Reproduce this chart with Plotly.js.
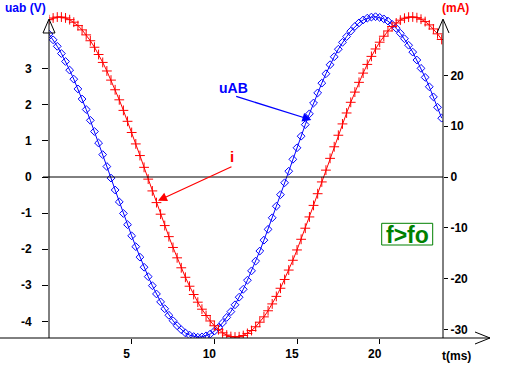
<!DOCTYPE html>
<html>
<head>
<meta charset="utf-8">
<script src="https://cdn.plot.ly/plotly-3.0.1.min.js"></script>
<style>html,body{margin:0;padding:0;background:#fff;}#chart{width:513px;height:373px;}</style>
</head>
<body>
<div id="chart"></div>
<script>
// time (ms)
const tMs = [0,0.25,0.5,0.75,1,1.25,1.5,1.75,2,2.25,2.5,2.75,3,3.25,3.5,3.75,4,4.25,4.5,4.75,
5,5.25,5.5,5.75,6,6.25,6.5,6.75,7,7.25,7.5,7.75,8,8.25,8.5,8.75,9,9.25,9.5,9.75,
10,10.25,10.5,10.75,11,11.25,11.5,11.75,12,12.25,12.5,12.75,13,13.25,13.5,13.75,14,14.25,14.5,14.75,
15,15.25,15.5,15.75,16,16.25,16.5,16.75,17,17.25,17.5,17.75,18,18.25,18.5,18.75,19,19.25,19.5,19.75,
20,20.25,20.5,20.75,21,21.25,21.5,21.75,22,22.25,22.5,22.75,23,23.25,23.5,23.75];
// uAB (V)
const uAB = [3.96,3.80,3.62,3.42,3.20,2.96,2.71,2.44,2.16,1.87,
1.57,1.26,0.94,0.62,0.29,-0.03,-0.36,-0.69,-1.01,-1.32,
-1.63,-1.93,-2.22,-2.50,-2.76,-3.01,-3.24,-3.46,-3.65,-3.83,
-3.98,-4.12,-4.23,-4.32,-4.38,-4.42,-4.44,-4.43,-4.40,-4.35,
-4.27,-4.17,-4.04,-3.89,-3.73,-3.54,-3.33,-3.11,-2.86,-2.60,
-2.33,-2.05,-1.75,-1.45,-1.13,-0.81,-0.49,-0.16,0.16,0.49,
0.81,1.13,1.45,1.75,2.05,2.33,2.60,2.86,3.11,3.33,
3.54,3.73,3.89,4.04,4.17,4.27,4.35,4.40,4.43,4.44,
4.42,4.38,4.32,4.23,4.12,3.98,3.83,3.65,3.46,3.24,
3.01,2.76,2.50,2.22,1.93,1.63];
// i (mA)
const iMA = [30.96,31.30,31.48,31.48,31.31,30.97,30.47,29.80,28.96,
27.97,26.82,25.54,24.11,22.55,20.87,19.07,17.17,15.19,13.11,
10.96,8.76,6.51,4.22,1.90,-0.42,-2.74,-5.04,-7.32,-9.56,
-11.74,-13.87,-15.91,-17.87,-19.74,-21.50,-23.13,-24.64,-26.02,-27.26,
-28.34,-29.28,-30.06,-30.67,-31.12,-31.40,-31.50,-31.44,-31.20,-30.79,
-30.22,-29.48,-28.58,-27.53,-26.33,-24.98,-23.50,-21.90,-20.17,-18.32,
-16.39,-14.36,-12.26,-10.08,-7.86,-5.59,-3.29,-0.97,1.35,3.67,
5.95,8.22,10.45,12.60,14.70,16.71,18.63,20.45,22.16,23.74,
25.20,26.53,27.71,28.74,29.62,30.32,30.87,31.25,31.46,31.50,
31.36,31.06,30.59,29.94,29.14,28.18,27.07];

const xTicks = [5,10,15,20];
const uTicks = [-4,-3,-2,-1,0,1,2,3];
const iTicks = [-30,-20,-10,0,10,20];

// pixel -> paper helpers (plot area 49..443 x 10..338)
const L = 49, R = 443, T = 10, B = 338;
const P = X => (X - L) / (R - L);
const Q = Y => (B - Y) / (B - T);
const pathPx = pts => pts.map((p, k) => (k ? 'L' : 'M') + P(p[0]).toFixed(5) + ',' + Q(p[1]).toFixed(5)).join(' ');

const FONT = '"Liberation Sans", Arial, sans-serif';
const tickFont = {family: FONT, size: 12, color: '#000', weight: 700};

const traces = [
  {x: tMs, y: uAB, type: 'scatter', mode: 'lines+markers', name: 'uAB',
   line: {color: '#0000ff', width: 1},
   marker: {symbol: 'diamond-open', size: 6, color: '#0000ff', line: {color: '#0000ff', width: 1}}},
  {x: tMs, y: iMA, type: 'scatter', mode: 'lines+markers', name: 'i', yaxis: 'y2',
   line: {color: '#ff0000', width: 1},
   marker: {symbol: 'cross-thin', size: 7, color: '#ff0000', line: {color: '#ff0000', width: 1}}}
];

const black = {color: '#000', width: 1};
const layout = {
  width: 513, height: 373,
  margin: {l: L, r: 513 - R, t: T, b: 373 - B, pad: 0},
  paper_bgcolor: '#fff', plot_bgcolor: '#fff',
  showlegend: false,
  xaxis: {range: [0, 23.83], showgrid: false, zeroline: false, showline: false,
    tickvals: xTicks, ticktext: xTicks.map(v => '<b>' + v + '</b>'), ticks: 'outside', ticklen: 5, tickcolor: '#000', tickwidth: 1,
    tickfont: tickFont, ticklabelshift: -5, ticklabelstandoff: 0, fixedrange: true},
  yaxis: {range: [-4.46, 4.626], showgrid: false, zeroline: false, showline: false,
    tickvals: uTicks, ticktext: uTicks.map(v => '<b>' + (v < 0 ? '-' + (-v) : String(v)) + '</b>'),
    ticks: 'outside', ticklen: 6, tickcolor: '#000', tickwidth: 1, tickfont: tickFont, ticklabelstandoff: 8},
  yaxis2: {range: [-31.69, 32.87], overlaying: 'y', side: 'right', showgrid: false, zeroline: false, showline: false,
    tickvals: iTicks, ticktext: iTicks.map(v => '<b>' + (v < 0 ? '-' + (-v) : String(v)) + '</b>'),
    ticks: 'outside', ticklen: 4, tickcolor: '#000', tickwidth: 1, tickfont: tickFont, ticklabelstandoff: 0},
  shapes: [
    {type: 'line', xref: 'paper', yref: 'paper', x0: P(49), x1: P(49), y0: Q(338), y1: Q(20), line: black},
    {type: 'line', xref: 'paper', yref: 'paper', x0: P(443), x1: P(443), y0: Q(338), y1: Q(20), line: black},
    {type: 'line', xref: 'paper', yref: 'paper', x0: P(0), x1: P(490), y0: Q(338), y1: Q(338), line: black},
    {type: 'line', xref: 'paper', yref: 'y', x0: P(43), x1: P(443), y0: 0, y1: 0, line: black},
    {type: 'path', xref: 'paper', yref: 'paper', path: pathPx([[43,33],[49,19],[55,33]]) + ' Z', line: black},
    {type: 'path', xref: 'paper', yref: 'paper', path: pathPx([[437,33],[443,19],[449,33]]), line: black},
    {type: 'path', xref: 'paper', yref: 'paper', path: pathPx([[475,332],[490,338],[475,344]]), line: black},
    {type: 'rect', xref: 'paper', yref: 'paper', x0: P(381.7), x1: P(432.7), y0: Q(245), y1: Q(223.3),
     line: {color: '#008000', width: 1}}
  ],
  annotations: [
    {xref: 'paper', yref: 'paper', x: P(25), y: Q(8), text: '<b>uab (V)</b>', showarrow: false, xanchor: 'center', yanchor: 'middle',
     font: {family: FONT, size: 12, color: '#0000ff'}},
    {xref: 'paper', yref: 'paper', x: P(455.5), y: Q(8), text: '<b>(mA)</b>', showarrow: false, xanchor: 'center', yanchor: 'middle',
     font: {family: FONT, size: 12, color: '#ff0000'}},
    {xref: 'paper', yref: 'paper', x: P(456), y: Q(356), text: '<b>t(ms)</b>', showarrow: false, xanchor: 'center', yanchor: 'middle',
     font: {family: FONT, size: 12, color: '#000'}},
    {xref: 'paper', yref: 'paper', x: P(233), y: Q(88), text: '<b>uAB</b>', showarrow: false, xanchor: 'center', yanchor: 'middle',
     font: {family: FONT, size: 14, color: '#0000ff'}},
    {xref: 'paper', yref: 'paper', x: P(232), y: Q(157), text: '<b>i</b>', showarrow: false, xanchor: 'center', yanchor: 'middle',
     font: {family: FONT, size: 15, color: '#ff0000'}},
    {xref: 'paper', yref: 'paper', x: P(407.5), y: Q(234.5), text: '<b>f&gt;fo</b>', showarrow: false, xanchor: 'center', yanchor: 'middle',
     font: {family: FONT, size: 23, color: '#008000'}},
    {xref: 'x', yref: 'y', x: 15.87, y: 1.58, text: '', showarrow: true, ax: -76.7, ay: -24,
     arrowhead: 2, arrowsize: 1.5, arrowwidth: 1.2, arrowcolor: '#0000ff', standoff: 0},
    {xref: 'x', yref: 'y', x: 6.59, y: -0.657, text: '', showarrow: true, ax: 75, ay: -34.7,
     arrowhead: 2, arrowsize: 1.5, arrowwidth: 1.2, arrowcolor: '#ff0000', standoff: 0}
  ]
};

Plotly.newPlot('chart', traces, layout, {staticPlot: true, displayModeBar: false});
</script>
</body>
</html>
